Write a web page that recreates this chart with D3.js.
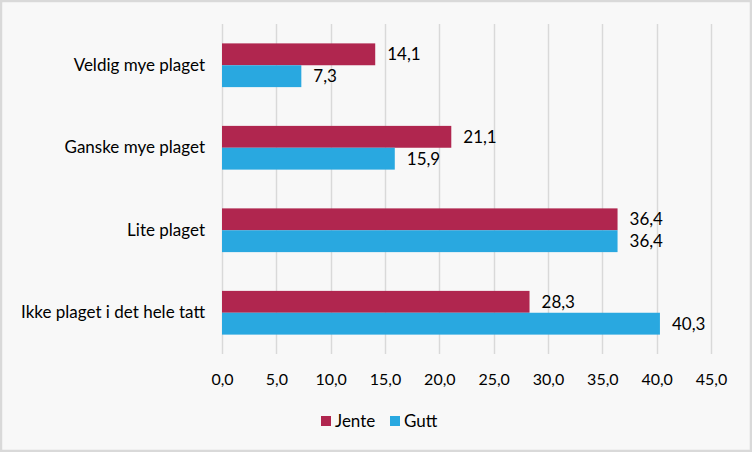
<!DOCTYPE html>
<html>
<head>
<meta charset="utf-8">
<script src="https://cdn.jsdelivr.net/npm/d3@7"></script>
<style>
  body { margin: 0; background: #fff; }
  svg { display: block; font-family: Lato, "Open Sans", sans-serif; }
</style>
</head>
<body>
<div id="chart"></div>
<script>
// data
var categories = ["Veldig mye plaget", "Ganske mye plaget", "Lite plaget", "Ikke plaget i det hele tatt"];
var jente = [14.1, 21.1, 36.4, 28.3];
var gutt = [7.3, 15.9, 36.4, 40.3];
var seriesNames = ["Jente", "Gutt"];
var colors = ["#b0264f", "#29a8e0"];
var ticks = [0, 5, 10, 15, 20, 25, 30, 35, 40, 45];

var W = 752, H = 452;
var margin = {top: 24, right: 41, bottom: 98, left: 222},
    width = W - margin.left - margin.right,
    height = H - margin.top - margin.bottom;

var fmt = function(v) { return d3.format(".1f")(v).replace(".", ","); };

var root = d3.select("#chart").append("svg")
    .attr("width", W).attr("height", H);

root.append("rect")
    .attr("x", 1).attr("y", 1)
    .attr("width", W - 2).attr("height", H - 2)
    .attr("fill", "#f8f8f8")
    .attr("stroke", "#d9d9d9").attr("stroke-width", 2.5);

var svg = root.append("g")
    .attr("transform", "translate(" + margin.left + "," + margin.top + ")");

var x = d3.scaleLinear().domain([0, 45]).range([0, width]);
var y = d3.scaleBand().domain(categories).range([0, height]).paddingInner(0.47).paddingOuter(0.235);
var ySub = d3.scaleBand().domain(seriesNames).range([0, y.bandwidth()]);

// gridlines
svg.append("g")
  .selectAll("line")
  .data(ticks)
  .enter()
  .append("line")
    .attr("x1", function(d) { return Math.round(x(d)) + 0.5; })
    .attr("x2", function(d) { return Math.round(x(d)) + 0.5; })
    .attr("y1", 0).attr("y2", height)
    .attr("stroke", "#d9d9d9").attr("stroke-width", 1.5);

// x axis
var xAxis = svg.append("g")
    .attr("transform", "translate(0," + height + ")")
    .call(d3.axisBottom(x).tickValues(ticks).tickFormat(fmt).tickSize(0).tickPadding(20));
xAxis.select(".domain").remove();
xAxis.selectAll("text").attr("font-size", 16).attr("fill", "#000").attr("font-family", "Lato, sans-serif");

// y axis
var yAxis = svg.append("g")
    .call(d3.axisLeft(y).tickSize(0).tickPadding(17));
yAxis.select(".domain").remove();
yAxis.selectAll("text").attr("font-size", 17).attr("fill", "#000").attr("font-family", "Lato, sans-serif");

var rows = categories.map(function(c, i) {
  return {cat: c, vals: [jente[i], gutt[i]]};
});

var groups = svg.selectAll(".grp")
  .data(rows)
  .enter()
  .append("g")
    .attr("transform", function(d) { return "translate(0," + y(d.cat) + ")"; });

groups.selectAll("rect")
  .data(function(d) { return d.vals.map(function(v, j) { return {s: seriesNames[j], v: v, c: colors[j]}; }); })
  .enter()
  .append("rect")
    .attr("x", 0)
    .attr("y", function(d) { return ySub(d.s); })
    .attr("width", function(d) { return x(d.v); })
    .attr("height", ySub.bandwidth())
    .attr("fill", function(d) { return d.c; });

groups.selectAll("text.val")
  .data(function(d) { return d.vals.map(function(v, j) { return {s: seriesNames[j], v: v}; }); })
  .enter()
  .append("text")
    .attr("class", "val")
    .attr("x", function(d) { return x(d.v) + 12; })
    .attr("y", function(d) { return ySub(d.s) + ySub.bandwidth() / 2; })
    .attr("dy", "0.35em")
    .attr("font-size", 17)
    .text(function(d) { return fmt(d.v); });

// legend
var legend = root.append("g").attr("transform", "translate(321,421)");
var lx = [0, 69];
seriesNames.forEach(function(name, i) {
  legend.append("rect")
    .attr("x", lx[i]).attr("y", -5)
    .attr("width", 10).attr("height", 10)
    .attr("fill", colors[i]);
  legend.append("text")
    .attr("x", lx[i] + 14).attr("y", 0)
    .attr("dy", "0.35em")
    .attr("font-size", 17)
    .text(name);
});
</script>
</body>
</html>
